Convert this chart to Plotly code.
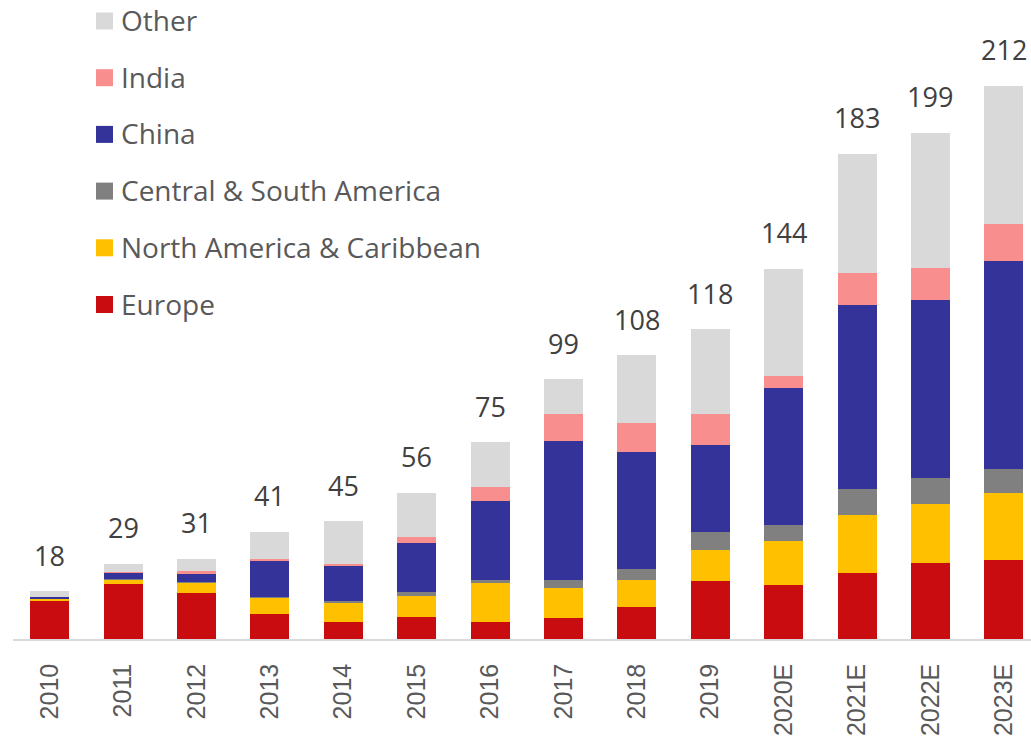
import numpy as np
import plotly.graph_objects as go

years = ["2010", "2011", "2012", "2013", "2014", "2015", "2016", "2017",
         "2018", "2019", "2020E", "2021E", "2022E", "2023E"]

europe = [14.6, 21.1, 17.7, 9.7, 6.5, 8.5, 6.6, 8.1, 12.1, 22.0, 20.5, 25.3, 29.1, 30.2]
north_america = [0.8, 1.5, 3.8, 6.2, 7.3, 8.1, 14.6, 11.3, 10.4, 12.0, 16.9, 22.1, 22.4, 25.4]
central_south_america = [0.1, 0.3, 0.3, 0.3, 0.8, 1.3, 1.3, 3.1, 4.3, 7.0, 6.1, 9.7, 10.1, 9.2]
china = [0.6, 2.4, 3.2, 13.4, 13.1, 18.8, 30.2, 53.2, 44.4, 33.2, 52.2, 70.5, 67.8, 79.4]
india = [0.1, 0.3, 1.0, 1.0, 1.0, 2.2, 5.2, 10.3, 11.3, 11.8, 4.5, 12.0, 12.2, 14.1]
other = [2.0, 3.1, 4.6, 10.3, 16.3, 17.0, 17.2, 13.2, 25.9, 32.3, 41.1, 45.7, 51.6, 52.9]

total_labels = ["18", "29", "31", "41", "45", "56", "75", "99", "108", "118",
                "144", "183", "199", "212"]

series = [
    ("Europe", europe, "#C80C0F"),
    ("North America & Caribbean", north_america, "#FFC000"),
    ("Central & South America", central_south_america, "#808080"),
    ("China", china, "#333399"),
    ("India", india, "#F88E8E"),
    ("Other", other, "#D9D9D9"),
]

fig = go.Figure()
for name, vals, color in series:
    fig.add_trace(go.Bar(x=years, y=vals, name=name, marker_color=color,
                         marker_line_width=0, showlegend=False))

stack_tops = np.sum([s[1] for s in series], axis=0)

# total labels above each bar (x given as category index)
for i, (top, lab) in enumerate(zip(stack_tops, total_labels)):
    fig.add_annotation(x=i, y=top, text=lab, showarrow=False,
                       xanchor="center", yanchor="middle", yshift=36,
                       font=dict(family="Open Sans", size=27, color="#404040"))

# legend drawn in pixel positions (converted to paper coordinates)
W, H = 1031, 740
ml, mr, mt, mb = 13, 0, 0, 101
pw, ph = W - ml - mr, H - mt - mb


def px(x):
    return (x - ml) / pw


def py(y):
    return 1 - (y - mt) / ph


legend_order = list(reversed(series))
for k, (name, vals, color) in enumerate(legend_order):
    cy = 21 + k * 56.7
    fig.add_shape(type="rect", xref="paper", yref="paper",
                  x0=px(96), x1=px(113), y0=py(cy - 8.5), y1=py(cy + 8.5),
                  fillcolor=color, line_width=0)
    fig.add_annotation(xref="paper", yref="paper", x=px(119), y=py(cy - 1),
                       text=name, showarrow=False, xanchor="left",
                       yanchor="middle",
                       font=dict(family="Open Sans", size=28, color="#595959"))

fig.update_layout(
    width=W, height=H,
    margin=dict(l=ml, r=mr, t=mt, b=mb),
    barmode="stack",
    bargap=0.469,
    plot_bgcolor="white",
    paper_bgcolor="white",
    showlegend=False,
)
fig.update_xaxes(type="category", range=[-0.5, 13.37], showline=True,
                 linecolor="#D9D9D9", linewidth=1.5, showgrid=False,
                 zeroline=False, tickangle=-90, ticklabelstandoff=13,
                 tickfont=dict(family="Liberation Sans", size=25, color="#595959"))
fig.update_yaxes(range=[0, 243.9], visible=False, showgrid=False)

fig.write_html("out.html",
               config={"displayModeBar": False},
               post_script="document.body.style.margin='0';document.body.style.padding='0';")
